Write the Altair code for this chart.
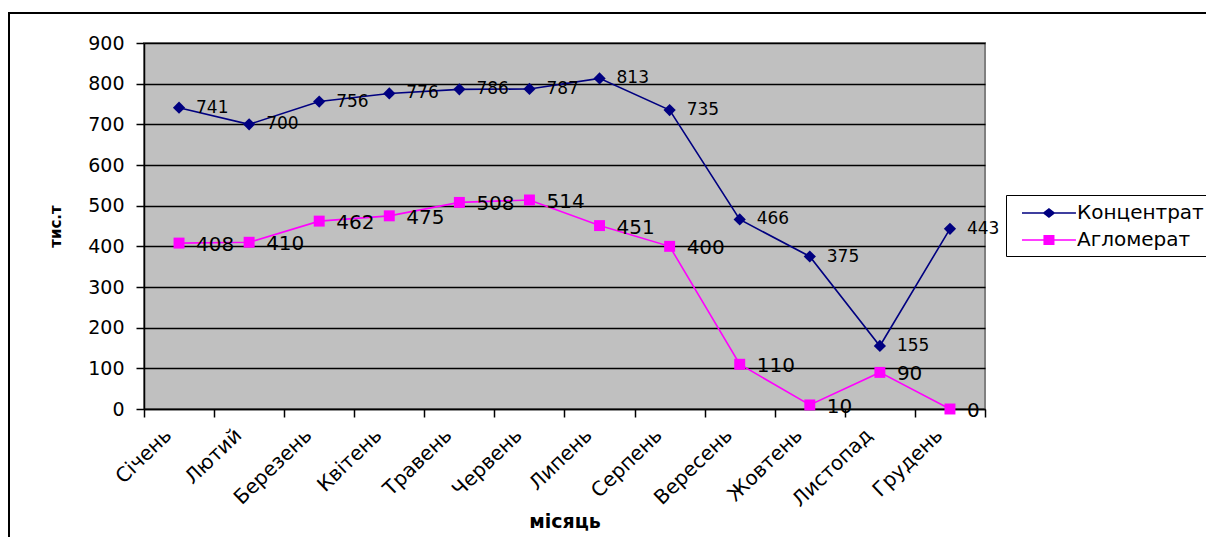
import altair as alt
import pandas as pd

months = ["Січень", "Лютий", "Березень", "Квітень", "Травень", "Червень",
          "Липень", "Серпень", "Вересень", "Жовтень", "Листопад", "Грудень"]
series_names = ["Концентрат", "Агломерат"]
concentrate = [741, 700, 756, 776, 786, 787, 813, 735, 466, 375, 155, 443]
agglomerate = [408, 410, 462, 475, 508, 514, 451, 400, 110, 10, 90, 0]
y_ticks = [0, 100, 200, 300, 400, 500, 600, 700, 800, 900]
colors = ["#000080", "#FF00FF"]

rows = []
for m, c, a in zip(months, concentrate, agglomerate):
    rows.append({"month": m, "series": series_names[0], "value": c})
    rows.append({"month": m, "series": series_names[1], "value": a})
df = pd.DataFrame(rows)

FONT = "DejaVu Sans"
color_scale = alt.Scale(domain=series_names, range=colors)

x_enc = alt.X("month:N", sort=months,
              scale=alt.Scale(type="band", paddingInner=0, paddingOuter=0),
              axis=alt.Axis(title="місяць", tickBand="extent", labelAngle=-44,
                            labelAlign="right", labelBaseline="middle",
                            labelPadding=15, labelOffset=-11, tickSize=8,
                            labelFont=FONT, labelFontSize=20, labelColor="black",
                            titleFont=FONT, titleFontSize=19, titleFontWeight="bold",
                            titleColor="black", titleY=112, titleBaseline="middle",
                            domainColor="black", domainWidth=1.5,
                            tickColor="black", tickWidth=1.5, grid=False))
y_enc = alt.Y("value:Q",
              scale=alt.Scale(domain=[0, 900], nice=False),
              axis=alt.Axis(title="тис.т", values=y_ticks, tickSize=8,
                            labelPadding=12, labelFont=FONT, labelFontSize=19,
                            labelColor="black",
                            titleFont=FONT, titleFontSize=15, titleFontWeight="bold",
                            titleColor="black", titleX=-89, titleY=183,
                            titleAlign="center", titleBaseline="middle",
                            domainColor="black", domainWidth=1.5,
                            tickColor="black", tickWidth=1.5,
                            grid=True, gridColor="black", gridWidth=1.4))

base = alt.Chart(df)

line_part = "M-0.17,-0.07L4.33,-0.07L4.33,0.07L-0.17,0.07Z"
sym_c = line_part + "M2.08,-0.42L2.62,0L2.08,0.42L1.54,0Z"
sym_a = line_part + "M1.62,-0.42L2.54,-0.42L2.54,0.42L1.62,0.42Z"

leg = alt.Legend(title=None, orient="none", legendX=862, legendY=152,
                 strokeColor="black", fillColor="white", padding=6,
                 labelFont=FONT, labelFontSize=20, labelColor="black",
                 labelOffset=41, rowPadding=5, symbolSize=576,
                 symbolStrokeWidth=0, symbolOpacity=1)

# invisible layer (size 0) that carries the legend; placed first so its legend wins the merge
legend_layer = base.mark_point(filled=True, opacity=1).encode(
    x=x_enc, y=y_enc,
    size=alt.value(0),
    color=alt.Color("series:N", scale=color_scale, legend=leg),
    shape=alt.Shape("series:N", scale=alt.Scale(domain=series_names, range=[sym_c, sym_a]),
                    legend=leg),
)

lines = base.mark_line(strokeWidth=1.6).encode(
    x=x_enc, y=y_enc,
    color=alt.Color("series:N", scale=color_scale),
)

pts_c = base.transform_filter(alt.datum.series == series_names[0]).mark_point(
    filled=True, shape="diamond", size=150, opacity=1).encode(
    x=x_enc, y=y_enc,
    color=alt.Color("series:N", scale=color_scale))
pts_a = base.transform_filter(alt.datum.series == series_names[1]).mark_point(
    filled=True, shape="square", size=120, opacity=1).encode(
    x=x_enc, y=y_enc,
    color=alt.Color("series:N", scale=color_scale))

lbl_c = base.transform_filter(alt.datum.series == series_names[0]).mark_text(
    align="left", baseline="middle", dx=17, dy=0, font=FONT, fontSize=17,
    color="black").encode(x=x_enc, y=y_enc, text="value:Q")
lbl_a = base.transform_filter(alt.datum.series == series_names[1]).mark_text(
    align="left", baseline="middle", dx=17, dy=2, font=FONT, fontSize=20,
    color="black").encode(x=x_enc, y=y_enc, text="value:Q")

border = alt.Chart(pd.DataFrame({"a": [0]})).mark_rect(
    fill="transparent", stroke="black", strokeWidth=2).encode(
    x=alt.value(-135), x2=alt.value(1200), y=alt.value(-30), y2=alt.value(600))

chart = alt.layer(legend_layer, lines, pts_c, pts_a, lbl_c, lbl_a, border).properties(
    width=841, height=366,
    autosize=alt.AutoSizeParams(type="none"),
    padding={"left": 136, "top": 35, "right": 221, "bottom": 128},
    background="white",
    view=alt.ViewBackground(fill="#C0C0C0", stroke="#808080", strokeWidth=2),
)

chart.save("out.html", embed_options={"renderer": "svg", "actions": False})
